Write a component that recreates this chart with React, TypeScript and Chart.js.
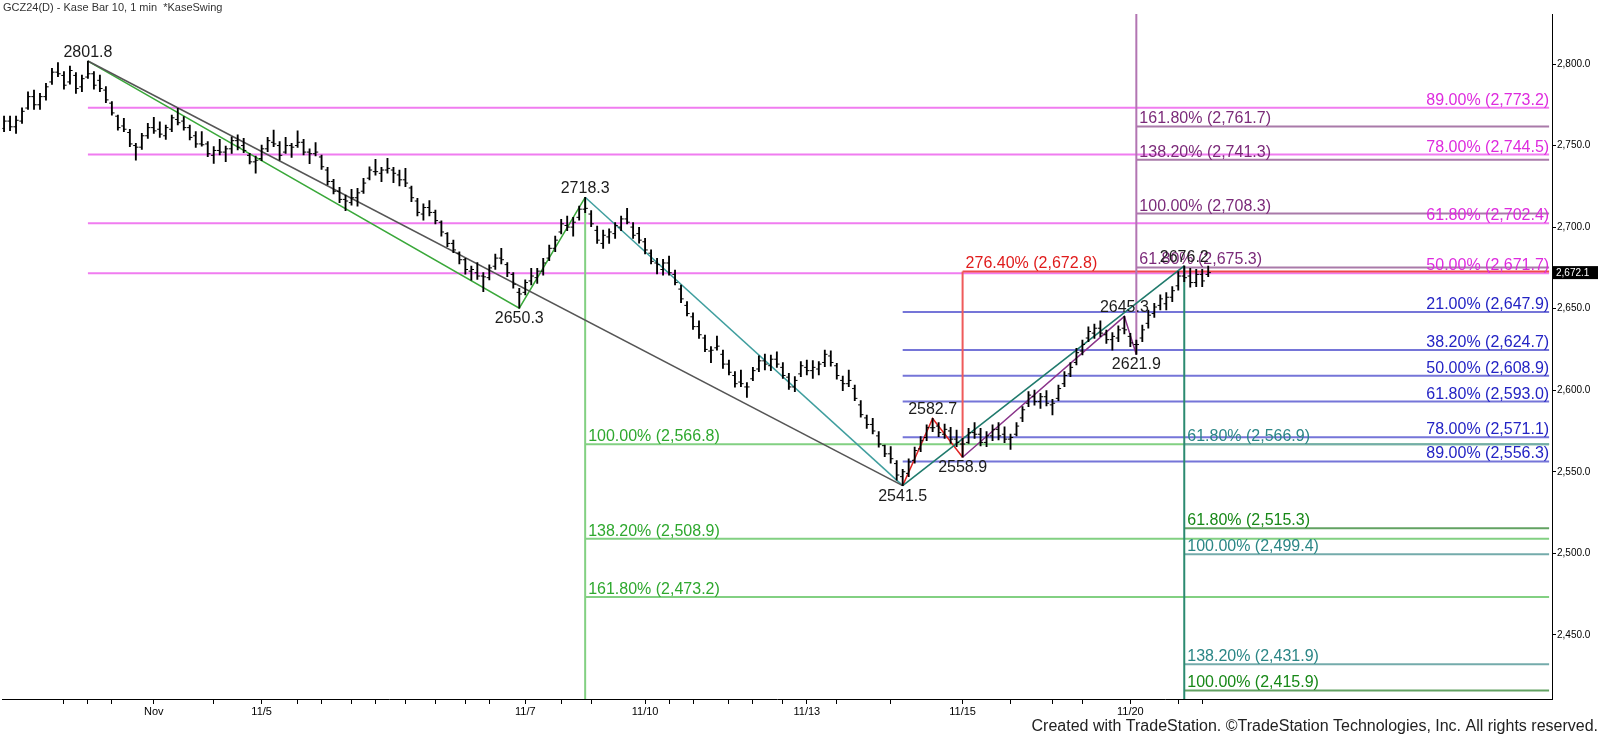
import { useEffect, useRef } from "react";
import { Chart, registerables } from "chart.js";

Chart.register(...registerables);

const FONT = '"Liberation Sans", Arial, Helvetica, sans-serif';
const titleText = "GCZ24(D) - Kase Bar 10, 1 min  *KaseSwing";
const footerText = "Created with TradeStation. \u00A9TradeStation Technologies, Inc. All rights reserved.";

// ---- OHLC bars (bar number = position in array + 1) ----
const highs = [
  2768.1, 2768.1, 2768.1, 2773.2, 2783.0, 2784.0, 2782.0, 2788.1, 2797.3, 2800.8,
  2795.3, 2798.8, 2794.7, 2793.2, 2801.8, 2795.3, 2793.2, 2786.1, 2776.9, 2768.7,
  2766.7, 2759.9, 2751.3, 2757.5, 2763.6, 2767.3, 2764.6, 2762.6, 2768.7, 2772.8,
  2767.7, 2762.6, 2758.5, 2758.5, 2752.4, 2749.3, 2753.8, 2749.7, 2755.4, 2756.5,
  2754.4, 2745.2, 2743.6, 2750.3, 2755.0, 2759.5, 2752.4, 2755.0, 2751.3, 2759.1,
  2753.8, 2748.0, 2751.8, 2744.2, 2736.6, 2729.3, 2724.4, 2719.7, 2723.1, 2723.8,
  2729.9, 2737.0, 2741.6, 2736.6, 2742.2, 2736.6, 2735.0, 2736.0, 2725.2, 2717.6,
  2714.2, 2716.2, 2710.5, 2703.9, 2696.6, 2692.1, 2684.9, 2680.9, 2676.1, 2678.2,
  2672.1, 2676.8, 2683.5, 2687.0, 2678.2, 2672.1, 2662.5, 2667.6, 2674.7, 2674.7,
  2680.9, 2689.0, 2694.5, 2704.7, 2706.8, 2706.0, 2712.9, 2718.3, 2710.1, 2700.7,
  2698.2, 2699.0, 2702.7, 2706.8, 2711.5, 2702.7, 2699.9, 2693.1, 2686.0, 2680.9,
  2680.2, 2682.3, 2673.7, 2664.5, 2654.3, 2647.5, 2642.6, 2633.8, 2626.7, 2633.2,
  2624.6, 2618.5, 2611.4, 2612.4, 2604.6, 2614.0, 2621.0, 2622.2, 2621.6, 2623.6,
  2616.9, 2610.3, 2608.3, 2617.5, 2618.5, 2618.1, 2617.5, 2624.6, 2624.2, 2616.5,
  2608.7, 2612.4, 2603.2, 2593.6, 2584.8, 2582.8, 2574.6, 2566.4, 2565.4, 2556.8,
  2551.5, 2558.0, 2565.2, 2571.5, 2578.7, 2582.7, 2580.1, 2579.3, 2577.2, 2575.6,
  2570.5, 2576.6, 2580.1, 2576.6, 2574.6, 2578.7, 2580.1, 2577.6, 2573.1, 2580.1,
  2589.9, 2599.1, 2600.1, 2598.1, 2599.7, 2594.4, 2603.2, 2611.4, 2616.9, 2625.7,
  2630.8, 2638.9, 2640.6, 2642.6, 2636.9, 2635.3, 2639.4, 2645.3, 2634.9, 2630.8,
  2640.0, 2649.2, 2653.2, 2658.4, 2659.8, 2663.5, 2672.7, 2676.2, 2674.7, 2674.1,
  2674.1, 2676.1,
];

const lows = [
  2758.5, 2759.1, 2757.5, 2763.6, 2772.2, 2772.2, 2772.2, 2777.9, 2787.5, 2792.2,
  2784.5, 2787.7, 2782.0, 2783.0, 2791.2, 2784.5, 2783.0, 2776.3, 2768.7, 2759.5,
  2758.5, 2749.3, 2741.1, 2747.7, 2754.4, 2757.5, 2755.0, 2753.8, 2758.5, 2762.6,
  2759.5, 2753.4, 2748.9, 2749.7, 2743.2, 2739.1, 2744.2, 2740.1, 2745.2, 2747.3,
  2745.6, 2738.7, 2733.0, 2740.7, 2746.2, 2749.3, 2741.1, 2745.2, 2742.8, 2748.9,
  2744.2, 2738.9, 2743.6, 2735.4, 2725.8, 2720.3, 2715.0, 2710.1, 2713.5, 2712.9,
  2720.7, 2728.9, 2731.9, 2727.9, 2733.0, 2727.3, 2725.2, 2724.8, 2715.6, 2706.8,
  2704.3, 2706.8, 2701.9, 2694.5, 2688.0, 2684.3, 2677.4, 2671.2, 2667.5, 2668.0,
  2660.4, 2667.6, 2674.1, 2677.4, 2669.6, 2662.5, 2650.3, 2658.4, 2664.5, 2665.5,
  2670.6, 2679.4, 2684.9, 2695.8, 2697.8, 2694.5, 2704.3, 2708.9, 2700.3, 2690.0,
  2687.0, 2690.0, 2693.1, 2697.8, 2701.9, 2693.1, 2690.1, 2683.5, 2677.4, 2671.3,
  2670.6, 2670.6, 2664.5, 2653.7, 2645.5, 2637.3, 2631.8, 2623.6, 2616.9, 2624.6,
  2613.4, 2609.3, 2601.8, 2602.2, 2595.6, 2605.8, 2611.4, 2612.4, 2612.0, 2614.0,
  2607.3, 2600.5, 2599.1, 2608.3, 2609.3, 2607.3, 2609.3, 2614.4, 2614.8, 2606.7,
  2599.7, 2602.2, 2593.6, 2583.4, 2576.6, 2573.2, 2565.0, 2559.2, 2555.2, 2544.9,
  2541.5, 2547.0, 2555.2, 2562.3, 2569.1, 2574.6, 2571.5, 2570.5, 2567.4, 2565.4,
  2558.9, 2567.4, 2570.5, 2565.8, 2565.4, 2569.1, 2569.5, 2567.8, 2563.7, 2571.9,
  2580.7, 2589.9, 2590.9, 2588.9, 2590.3, 2584.8, 2593.6, 2602.2, 2608.3, 2615.5,
  2621.6, 2629.8, 2631.8, 2632.8, 2628.7, 2624.6, 2629.8, 2634.5, 2626.7, 2621.9,
  2629.8, 2638.0, 2644.7, 2649.2, 2649.2, 2654.3, 2661.4, 2666.5, 2663.1, 2663.5,
  2663.5, 2669.6,
];

const opens = [
  2760.5, 2765.0, 2761.5, 2765.0, 2773.0, 2780.0, 2775.0, 2780.0, 2789.0, 2795.0,
  2793.0, 2789.0, 2793.0, 2786.0, 2792.0, 2794.0, 2790.0, 2784.0, 2776.0, 2768.0,
  2762.0, 2758.0, 2750.0, 2749.0, 2756.0, 2761.0, 2760.0, 2756.0, 2760.0, 2766.0,
  2765.0, 2761.0, 2756.0, 2751.0, 2751.0, 2744.0, 2747.0, 2746.0, 2748.0, 2753.0,
  2750.0, 2744.0, 2740.0, 2742.0, 2748.0, 2752.0, 2750.0, 2746.0, 2750.0, 2750.0,
  2752.0, 2746.0, 2745.0, 2743.0, 2735.0, 2728.0, 2722.0, 2717.0, 2715.0, 2718.0,
  2722.0, 2730.0, 2734.0, 2733.0, 2735.0, 2735.0, 2732.0, 2729.0, 2724.0, 2716.0,
  2708.0, 2712.0, 2709.0, 2703.0, 2696.0, 2690.0, 2684.0, 2680.0, 2673.0, 2672.0,
  2670.0, 2669.0, 2676.0, 2681.0, 2677.0, 2671.0, 2660.0, 2660.0, 2667.0, 2669.0,
  2673.0, 2681.0, 2687.0, 2697.0, 2701.0, 2700.0, 2706.0, 2711.0, 2708.0, 2698.0,
  2690.0, 2694.0, 2696.0, 2700.0, 2705.0, 2700.0, 2696.0, 2691.0, 2684.0, 2678.0,
  2674.0, 2678.0, 2671.0, 2662.0, 2652.0, 2645.0, 2639.0, 2632.0, 2624.0, 2626.0,
  2622.0, 2616.0, 2609.0, 2605.0, 2602.0, 2607.0, 2613.0, 2618.0, 2615.0, 2619.0,
  2614.0, 2608.0, 2602.0, 2610.0, 2614.0, 2612.0, 2613.0, 2617.0, 2621.0, 2615.0,
  2606.0, 2604.0, 2601.0, 2591.0, 2583.0, 2579.0, 2572.0, 2566.0, 2561.0, 2555.0,
  2547.0, 2549.0, 2557.0, 2564.0, 2571.0, 2577.0, 2578.0, 2573.0, 2575.0, 2570.0,
  2567.0, 2568.0, 2574.0, 2573.0, 2568.0, 2572.0, 2576.0, 2573.0, 2570.0, 2573.0,
  2583.0, 2592.0, 2596.0, 2593.0, 2596.0, 2591.0, 2595.0, 2604.0, 2610.0, 2617.0,
  2624.0, 2632.0, 2635.0, 2638.0, 2634.0, 2631.0, 2632.0, 2638.0, 2633.0, 2628.0,
  2632.0, 2641.0, 2647.0, 2652.0, 2653.0, 2657.0, 2664.0, 2670.0, 2670.0, 2666.0,
  2671.0, 2671.0,
];

const closes = [
  2765.0, 2761.5, 2765.5, 2771.0, 2780.0, 2775.0, 2780.0, 2786.0, 2795.0, 2794.0,
  2787.0, 2796.0, 2785.0, 2791.0, 2794.0, 2787.0, 2785.0, 2778.0, 2770.0, 2761.0,
  2760.0, 2751.0, 2749.0, 2756.0, 2761.0, 2759.0, 2757.0, 2761.0, 2767.0, 2764.0,
  2761.0, 2755.0, 2751.0, 2750.5, 2745.0, 2747.0, 2746.0, 2748.0, 2753.0, 2749.0,
  2747.0, 2740.0, 2741.0, 2748.0, 2753.0, 2751.0, 2744.0, 2750.0, 2749.0, 2752.0,
  2746.0, 2745.0, 2746.0, 2737.0, 2728.0, 2722.0, 2717.0, 2716.0, 2718.0, 2721.0,
  2727.0, 2735.0, 2734.0, 2735.0, 2736.0, 2733.0, 2729.0, 2727.0, 2718.0, 2709.0,
  2712.0, 2709.0, 2704.0, 2697.0, 2690.0, 2686.0, 2680.0, 2674.0, 2674.0, 2670.0,
  2669.5, 2675.0, 2681.0, 2680.0, 2672.0, 2665.0, 2659.0, 2666.0, 2670.0, 2673.0,
  2678.0, 2687.0, 2692.0, 2702.0, 2700.0, 2703.0, 2711.0, 2711.5, 2702.0, 2692.0,
  2695.0, 2697.0, 2701.0, 2705.0, 2703.0, 2695.0, 2692.0, 2686.0, 2679.0, 2677.0,
  2678.0, 2672.0, 2666.0, 2656.0, 2647.0, 2639.0, 2634.0, 2625.0, 2624.5, 2627.0,
  2616.0, 2611.0, 2604.0, 2604.0, 2602.0, 2612.0, 2618.0, 2616.0, 2619.0, 2616.0,
  2609.0, 2602.0, 2606.0, 2615.0, 2612.0, 2614.0, 2616.0, 2622.0, 2617.0, 2609.0,
  2604.0, 2606.0, 2595.0, 2585.0, 2579.0, 2575.0, 2567.0, 2561.0, 2558.0, 2548.0,
  2550.0, 2556.0, 2563.0, 2569.0, 2577.0, 2577.0, 2574.0, 2576.0, 2570.0, 2568.0,
  2567.0, 2574.0, 2573.0, 2568.0, 2572.0, 2576.0, 2572.0, 2570.0, 2571.0, 2578.0,
  2588.0, 2597.0, 2593.0, 2596.0, 2592.0, 2592.0, 2601.0, 2609.0, 2614.0, 2623.0,
  2628.0, 2636.0, 2638.0, 2635.0, 2631.0, 2633.0, 2637.0, 2637.0, 2629.0, 2628.0,
  2637.0, 2646.0, 2651.0, 2656.0, 2657.0, 2661.0, 2670.0, 2669.0, 2666.0, 2671.0,
  2667.0, 2672.1,
];

// ---- axes ----
const xTickBars = [11, 15, 19, 26, 36, 44, 50, 54, 59, 63, 68, 73, 78, 82, 88, 94, 99, 108, 112, 116, 122, 126, 131, 135, 140, 149, 161, 169, 176, 181, 189, 197, 201];
const xTickLabelBars = [26, 44, 88, 108, 135, 161, 189];
const xTickLabels = ["Nov", "11/5", "11/7", "11/10", "11/13", "11/15", "11/20"];
const yTicks = [2450, 2500, 2550, 2600, 2650, 2700, 2750, 2800];

// ---- swing points ----
const swingBars = [15, 87, 98, 151, 156, 161, 188, 190, 198];
const swingPrices = [2801.8, 2650.3, 2718.3, 2541.5, 2582.7, 2558.9, 2645.3, 2621.9, 2676.2];
const swingAbove = [true, false, true, false, true, false, true, false, true];

// swing paths (indices into swing arrays)
const grayPath = [0, 3];
const greenPath = [0, 1, 2];
const tealPath = [2, 3];
const dkTealPath = [3, 8];
const redPath = [3, 4, 5];
const purplePath = [5, 6, 7];

// ---- fib levels ----
const fibPctMagenta = ["89.00%", "78.00%", "61.80%", "50.00%"];
const fibValMagenta = [2773.2, 2744.5, 2702.4, 2671.7];
const fibPctBlue = ["21.00%", "38.20%", "50.00%", "61.80%", "78.00%", "89.00%"];
const fibValBlue = [2647.9, 2624.7, 2608.9, 2593.0, 2571.1, 2556.3];
const fibPctGreen = ["100.00%", "138.20%", "161.80%"];
const fibValGreen = [2566.8, 2508.9, 2473.2];
const fibPctPurple = ["161.80%", "138.20%", "100.00%", "61.80%"];
const fibValPurple = [2761.7, 2741.3, 2708.3, 2675.3];
const fibPctRed = ["276.40%"];
const fibValRed = [2672.8];
const fibPctTeal = ["61.80%", "100.00%", "138.20%"];
const fibValTeal = [2566.9, 2499.4, 2431.9];
const fibPctDkGreen = ["61.80%", "100.00%"];
const fibValDkGreen = [2515.3, 2415.9];

// ---- scale geometry ----
const X_MIN = 0.71667;
const X_MAX = 259.3833;
const X_END = 258.9;
const Y_MIN = 2410.67;
const Y_MAX = 2830.66;

const fmt = (v: number) =>
  v.toLocaleString("en-US", { minimumFractionDigits: 1, maximumFractionDigits: 1 });

type FibGroup = {
  pcts: string[];
  vals: number[];
  anchor: number;
  align: "left" | "right";
  line: string;
  text: string;
};

const fibGroups: FibGroup[] = [
  { pcts: fibPctRed, vals: fibValRed, anchor: 5, align: "left", line: "#ef4a4a", text: "#e01b1b" },
  { pcts: fibPctPurple, vals: fibValPurple, anchor: 7, align: "left", line: "#a97aa9", text: "#7b2a79" },
  { pcts: fibPctTeal, vals: fibValTeal, anchor: 8, align: "left", line: "#74abab", text: "#2b8686" },
  { pcts: fibPctDkGreen, vals: fibValDkGreen, anchor: 8, align: "left", line: "#62a262", text: "#178817" },
  { pcts: fibPctBlue, vals: fibValBlue, anchor: 3, align: "right", line: "#7575d8", text: "#2323c4" },
  { pcts: fibPctGreen, vals: fibValGreen, anchor: 2, align: "left", line: "#82d082", text: "#2ea82e" },
  { pcts: fibPctMagenta, vals: fibValMagenta, anchor: 0, align: "right", line: "#f07cf0", text: "#de2ade" },
];

const lineDs = (points: { x: number; y: number }[], color: string, width: number) => ({
  type: "line" as const,
  data: points,
  borderColor: color,
  backgroundColor: color,
  borderWidth: width,
  pointRadius: 0,
  pointHoverRadius: 0,
  fill: false,
  tension: 0,
});

const pathPoints = (path: number[]) => path.map((k) => ({ x: swingBars[k], y: swingPrices[k] }));

const overlayPlugin = {
  id: "overlay",
  afterDatasetsDraw(chart: any) {
    const { ctx } = chart;
    const xs = chart.scales.x;
    const ys = chart.scales.y;
    ctx.save();
    ctx.font = `16px ${FONT}`;
    ctx.textBaseline = "alphabetic";
    fibGroups.forEach((g) => {
      g.vals.forEach((v, i) => {
        const text = `${g.pcts[i]} (${fmt(v)})`;
        const py = ys.getPixelForValue(v) - 3;
        ctx.fillStyle = g.text;
        if (g.align === "right") {
          ctx.textAlign = "right";
          ctx.fillText(text, xs.getPixelForValue(X_END), py);
        } else {
          ctx.textAlign = "left";
          ctx.fillText(text, xs.getPixelForValue(swingBars[g.anchor]) + 3, py);
        }
      });
    });
    ctx.fillStyle = "#1c1c1c";
    ctx.textAlign = "center";
    swingBars.forEach((b, i) => {
      const px = xs.getPixelForValue(b);
      const py = ys.getPixelForValue(swingPrices[i]);
      ctx.fillText(swingPrices[i].toFixed(1), px, swingAbove[i] ? py - 4 : py + 15);
    });
    ctx.restore();
  },
  afterDraw(chart: any) {
    const { ctx, chartArea } = chart;
    const ys = chart.scales.y;
    ctx.save();
    // title
    ctx.font = `11px ${FONT}`;
    ctx.fillStyle = "#333";
    ctx.textAlign = "left";
    ctx.textBaseline = "middle";
    ctx.fillText(titleText, 3, 8);
    // footer
    ctx.font = `16px ${FONT}`;
    ctx.fillStyle = "#222";
    ctx.textAlign = "right";
    ctx.fillText(footerText, 1598, 727);
    // current price box
    const last = closes[closes.length - 1];
    const py = ys.getPixelForValue(last);
    const left = chartArea.right + 1;
    ctx.fillStyle = "#000";
    ctx.fillRect(left, py - 6.5, 45, 13);
    ctx.fillStyle = "#fff";
    ctx.font = `10px ${FONT}`;
    ctx.textAlign = "left";
    ctx.fillText(fmt(last), left + 3, py + 0.5);
    ctx.restore();
  },
};

export default function App() {
  const ref = useRef<HTMLCanvasElement>(null);

  useEffect(() => {
    const canvas = ref.current;
    if (!canvas) return;

    const ohlc = highs.map((h, i) => ({ x: i + 1, y: [lows[i], h] }));
    const openTicks = opens.map((o, i) => ({ x: i + 1 - 0.22, y: o }));
    const closeTicks = closes.map((c, i) => ({ x: i + 1 + 0.22, y: c }));

    const tickDs = (pts: { x: number; y: number }[]) => ({
      type: "scatter" as const,
      data: pts,
      pointStyle: "line",
      pointRadius: 1.35,
      pointHoverRadius: 1.35,
      pointBorderWidth: 1,
      pointBorderColor: "#000",
      pointBackgroundColor: "#000",
      showLine: false,
    });

    const fibDatasets: any[] = [];
    fibGroups.forEach((g) => {
      g.vals.forEach((v) => {
        fibDatasets.push(
          lineDs([{ x: swingBars[g.anchor], y: v }, { x: X_END, y: v }], g.line, 2)
        );
      });
    });

    const datasets: any[] = [
      {
        type: "bar",
        data: ohlc,
        backgroundColor: "#000",
        borderWidth: 0,
        barThickness: 1.2,
        grouped: false,
      },
      tickDs(openTicks),
      tickDs(closeTicks),
      lineDs(pathPoints(grayPath), "#555555", 1.6),
      lineDs(pathPoints(greenPath), "#3aa83a", 1.5),
      lineDs(pathPoints(tealPath), "#3f9e9e", 1.5),
      lineDs(pathPoints(dkTealPath), "#1f7a6c", 1.6),
      lineDs(pathPoints(redPath), "#e02424", 1.5),
      lineDs(pathPoints(purplePath), "#8a348a", 1.5),
      lineDs([{ x: swingBars[2], y: swingPrices[2] }, { x: swingBars[2], y: Y_MIN }], "#82d082", 2),
      lineDs([{ x: swingBars[8], y: swingPrices[8] }, { x: swingBars[8], y: Y_MIN }], "#2b8a70", 2),
      lineDs([{ x: swingBars[5], y: swingPrices[5] }, { x: swingBars[5], y: fibValRed[0] }], "#ef5a5a", 2),
      lineDs([{ x: swingBars[7], y: swingPrices[7] }, { x: swingBars[7], y: Y_MAX }], "#b275b2", 2),
      ...fibDatasets,
    ];

    const chart = new Chart(canvas, {
      type: "bar",
      data: { datasets },
      options: {
        animation: false,
        responsive: false,
        maintainAspectRatio: false,
        devicePixelRatio: 1,
        events: [],
        layout: { padding: { top: 14, left: 0, right: 0, bottom: 0 } },
        plugins: {
          legend: { display: false },
          tooltip: { enabled: false },
          title: { display: false },
        },
        scales: {
          x: {
            type: "linear",
            min: X_MIN,
            max: X_MAX,
            bounds: "data",
            offset: false,
            afterBuildTicks: (s: any) => {
              s.ticks = xTickBars.map((v) => ({ value: v }));
            },
            afterFit: (s: any) => {
              s.height = 40;
            },
            grid: {
              display: true,
              drawOnChartArea: false,
              drawTicks: true,
              tickLength: 5,
              color: "#000",
              tickColor: "#000",
              offset: false,
            },
            border: { display: true, color: "#000", width: 1 },
            ticks: {
              autoSkip: false,
              maxRotation: 0,
              minRotation: 0,
              padding: 1,
              color: "#000",
              font: { family: FONT, size: 11 },
              callback: (v: any) => {
                const k = xTickLabelBars.indexOf(Number(v));
                return k >= 0 ? xTickLabels[k] : "";
              },
            },
          },
          y: {
            type: "linear",
            position: "right",
            min: Y_MIN,
            max: Y_MAX,
            bounds: "data",
            afterBuildTicks: (s: any) => {
              s.ticks = yTicks.map((v) => ({ value: v }));
            },
            afterFit: (s: any) => {
              s.width = 48;
            },
            grid: {
              display: true,
              drawOnChartArea: false,
              drawTicks: true,
              tickLength: 4,
              color: "#000",
              tickColor: "#000",
            },
            border: { display: true, color: "#000", width: 1 },
            ticks: {
              padding: 1,
              color: "#000",
              font: { family: FONT, size: 10 },
              callback: (v: any) => fmt(Number(v)),
            },
          },
        },
      } as any,
      plugins: [overlayPlugin],
    });

    return () => chart.destroy();
  }, []);

  return (
    <div style={{ position: "fixed", left: 0, top: 0, width: 1600, height: 739, background: "#fff" }}>
      <canvas ref={ref} width={1600} height={739} style={{ width: 1600, height: 739, display: "block" }} />
    </div>
  );
}
